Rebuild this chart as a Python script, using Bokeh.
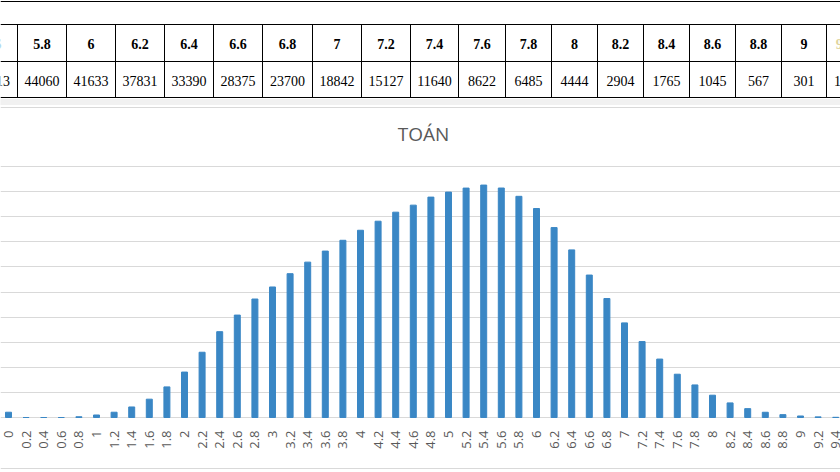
import math
from bokeh.plotting import figure
from bokeh.layouts import column
from bokeh.models import Range1d, Span, FixedTicker, ColumnDataSource
from bokeh.core.properties import value
from bokeh.embed import file_html
from bokeh.resources import INLINE

# ---------------- data ----------------
scores = ["0", "0.2", "0.4", "0.6", "0.8", "1", "1.2", "1.4", "1.6", "1.8",
          "2", "2.2", "2.4", "2.6", "2.8", "3", "3.2", "3.4", "3.6", "3.8",
          "4", "4.2", "4.4", "4.6", "4.8", "5", "5.2", "5.4", "5.6", "5.8",
          "6", "6.2", "6.4", "6.6", "6.8", "7", "7.2", "7.4", "7.6", "7.8",
          "8", "8.2", "8.4", "8.6", "8.8", "9", "9.2", "9.4"]
counts = [1050, 0, 0, 0, 150, 500, 1050, 2100, 3650, 6100,
          9050, 13000, 17100, 20400, 23600, 26000, 28650, 30950, 33150, 35300,
          37300, 39100, 40900, 42300, 43900, 44900, 45700, 46300, 45713, 44060,
          41633, 37831, 33390, 28375, 23700, 18842, 15127, 11640, 8622, 6485,
          4444, 2904, 1765, 1045, 567, 301, 127, 40]

table_scores = ["5.6", "5.8", "6", "6.2", "6.4", "6.6", "6.8", "7", "7.2", "7.4",
                "7.6", "7.8", "8", "8.2", "8.4", "8.6", "8.8", "9", "9.2"]
table_counts = [45713, 44060, 41633, 37831, 33390, 28375, 23700, 18842, 15127, 11640,
                8622, 6485, 4444, 2904, 1765, 1045, 567, 301, 127]

y_ticks = list(range(0, 50001, 5000))
chart_title = "TOÁN"

# ---------------- table strip (top) ----------------
W = 840
TOP_H = 105
edges = [17, 66, 115, 164, 213, 262, 312, 361, 410, 458, 505, 551, 597, 643, 689, 735, 781, 826]
centers = [edges[0] - 25] + [(a + b) / 2 for a, b in zip(edges[:-1], edges[1:])] + [edges[-1] + 18]

t = figure(width=W, height=TOP_H, x_range=Range1d(0, W), y_range=Range1d(TOP_H, 0),
           output_backend="svg", toolbar_location=None, min_border=0)
t.axis.visible = False
t.grid.visible = False
t.outline_line_color = None
t.background_fill_color = "white"
t.border_fill_color = "white"

t.quad(left=0, right=W, top=99, bottom=TOP_H, color="#f1f1f1")
t.segment(x0=[0, 0, 0, 0], x1=[W] * 4, y0=[1, 24, 61, 97], y1=[1, 24, 61, 97],
          line_color="black", line_width=1)
t.segment(x0=edges, x1=edges, y0=[24] * len(edges), y1=[97] * len(edges),
          line_color="black", line_width=1)

hdr_colors = ["#6fa8dc"] + ["black"] * (len(table_scores) - 2) + ["#e0d49e"]
tsrc = ColumnDataSource(dict(x=centers, s=table_scores,
                             c=[str(v) for v in table_counts], col=hdr_colors))
t.text(x="x", y=43, text="s", source=tsrc, text_align="center", text_baseline="middle",
       text_font=value("Liberation Serif"), text_font_style="bold",
       text_font_size="14px", text_color="col")
t.text(x="x", y=80, text="c", source=tsrc, text_align="center", text_baseline="middle",
       text_font=value("Liberation Serif"), text_font_size="14px", text_color="black")

# ---------------- bar chart (bottom) ----------------
BOT_H = 367
step_px = 17.6          # pixels per category
x0_px = 8.0             # pixel position of first category
base_abs = 417          # absolute pixel of baseline
px_per_unit = 25.1 / 5000
top_abs = TOP_H

def yval(abs_px):
    return (base_abs - abs_px) / px_per_unit

x_start = -x0_px / step_px
x_end = x_start + W / step_px
b = figure(width=W, height=BOT_H,
           x_range=Range1d(x_start, x_end),
           y_range=Range1d(yval(top_abs + BOT_H), yval(top_abs)),
           output_backend="svg", toolbar_location=None, min_border=0)
b.axis.visible = False
b.xgrid.visible = False
b.ygrid.ticker = FixedTicker(ticks=y_ticks)
b.ygrid.grid_line_color = "#d9d9d9"
b.ygrid.grid_line_width = 1
b.outline_line_color = None
b.background_fill_color = "white"
b.border_fill_color = "white"

b.add_layout(Span(location=yval(107), dimension="width", line_color="#d9d9d9", line_width=1))
b.add_layout(Span(location=yval(468), dimension="width", line_color="#d9d9d9", line_width=1))

src = ColumnDataSource(dict(x=list(range(len(scores))), top=counts, label=scores))
b.vbar(x="x", top="top", width=0.34, source=src, color="#3a87c5")
b.text(x="x", y=0, text="label", source=src, angle=math.pi / 2,
       text_align="right", text_baseline="middle", y_offset=13,
       text_font=value("Open Sans"), text_font_size="13px", text_color="#595959")

b.text(x=[x_start + 423 / step_px], y=[yval(133)], text=[chart_title],
       text_align="center", text_baseline="middle",
       text_font=value("Open Sans"), text_font_size="19px", text_color="#595959")

layout = column(t, b, spacing=0)
open("out.html", "w").write(file_html(layout, INLINE))
